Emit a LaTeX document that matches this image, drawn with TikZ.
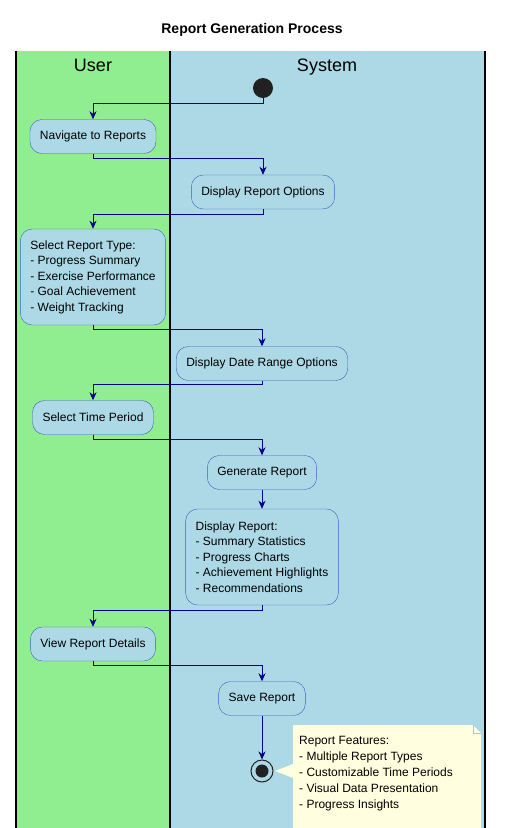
\documentclass[tikz,border=0pt]{standalone}
\usepackage{fontspec}
\setmainfont{Liberation Sans}
\usetikzlibrary{arrows.meta}
\definecolor{userlane}{HTML}{90EE90}
\definecolor{syslane}{HTML}{ADD8E6}
\definecolor{actline}{HTML}{3F5FBF}
\definecolor{flowline}{HTML}{00008B}
\definecolor{notefill}{HTML}{FFFFE0}

\begin{document}
\begin{tikzpicture}[x=1pt,y=-1pt,
    action/.style={draw=actline, fill=syslane, rounded corners=12pt, inner xsep=10pt,
        minimum height=34pt, align=left, font=\fontsize{12}{15.5}\selectfont},
    longaction/.style={action, minimum height=96pt},
    flow/.style={draw=flowline, line width=0.9pt, -{Stealth[length=8pt,width=7pt,inset=2.5pt]}},
    lane/.style={line width=1.2pt}]
    \useasboundingbox (0,0) rectangle (504,828);

    % swimlanes
    \fill[userlane] (16,51) rectangle (170,828);
    \fill[syslane] (170,51) rectangle (485,828);
    \draw[lane] (16,51) -- (16,828);
    \draw[lane] (170,51) -- (170,828);
    \draw[lane] (485,51) -- (485,828);
    \node [font=\fontsize{14}{16}\selectfont\bfseries] (title) at (252,30) {Report Generation Process};
    \node [anchor=base, font=\fontsize{18}{20}\selectfont] (userlbl) at (93,71) {User};
    \node [anchor=base, font=\fontsize{18}{20}\selectfont] (syslbl) at (327,71) {System};

    % activities
    \node [circle, fill=black!87, minimum size=20pt, inner sep=0pt] (start) at (263,88) {};
    \node [action] (nav) at (93,136.5) {Navigate to Reports};
    \node [action] (opts) at (263,192) {Display Report Options};
    \node [longaction] (type) at (93,277) {Select Report Type:\\- Progress Summary\\- Exercise Performance\\- Goal Achievement\\- Weight Tracking};
    \node [action] (range) at (262,363.5) {Display Date Range Options};
    \node [action] (period) at (93,417.5) {Select Time Period};
    \node [action] (gen) at (262,472.5) {Generate Report};
    \node [longaction] (show) at (262,557) {Display Report:\\- Summary Statistics\\- Progress Charts\\- Achievement Highlights\\- Recommendations};
    \node [action] (view) at (93,644) {View Report Details};
    \node [action] (save) at (262,698.5) {Save Report};
    \node [circle, draw=black!87, line width=1pt, minimum size=22pt, inner sep=0pt] (stop) at (262,771) {};
    \fill[black!87] (stop.center) circle (6.5pt);

    % flows
    \draw[flow] (start.south) -- ++(0,5) -| (nav.north);
    \draw[flow] (nav.south) -- ++(0,5) -| (opts.north);
    \draw[flow] (opts.south) -- ++(0,5) -| (type.north);
    \draw[flow] (type.south) -- ++(0,4) -| (range.north);
    \draw[flow] (range.south) -- ++(0,4) -| (period.north);
    \draw[flow] (period.south) -- ++(0,5) -| (gen.north);
    \draw[flow] (gen.south) -- (show.north);
    \draw[flow] (show.south) -- ++(0,5) -| (view.north);
    \draw[flow] (view.south) -- ++(0,4) -| (save.north);
    \draw[flow] (save.south) -- (stop.north);

    % note
    \fill[notefill] (293,725) -- (473,725) -- (481,733) -- (481,828) -- (293,828)
        -- (293,778) -- (275,771) -- (293,764) -- cycle;
    \draw[black!25, line width=0.5pt] (473,725) -- (473,733) -- (481,733);
    \node [anchor=north west, align=left, inner sep=0pt, font=\fontsize{12}{16}\selectfont] (note) at (299,736)
        {Report Features:\\- Multiple Report Types\\- Customizable Time Periods\\- Visual Data Presentation\\- Progress Insights};
\end{tikzpicture}
\end{document}
